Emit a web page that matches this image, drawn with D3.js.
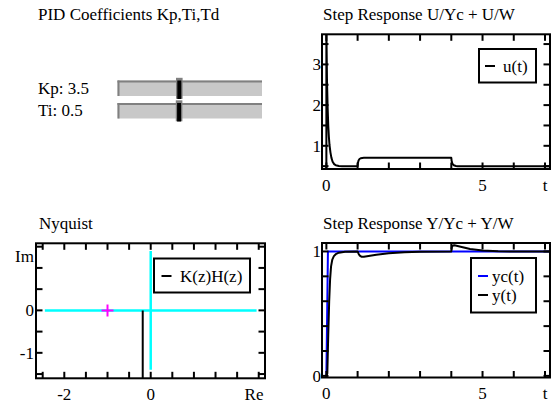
<!DOCTYPE html>
<html><head><meta charset="utf-8">
<script src="https://cdn.jsdelivr.net/npm/d3@7"></script>
<style>
body{margin:0;background:#fff}
text{font-family:"Liberation Serif","Times New Roman",serif;font-size:17px;fill:#000}
</style></head><body>
<svg id="c" width="553" height="405"></svg>
<script>
// ---------- data ----------
const titles = ["PID Coefficients Kp,Ti,Td", "Step Response U/Yc + U/W", "Nyquist", "Step Response Y/Yc + Y/W"];

const sliderNames = ["Kp", "Ti"];
const sliderValues = [3.5, 0.5];
const sliderMin = [0, 0];
const sliderMax = [8.3, 1.19];

// control signal u(t)
const tU =   [0, 0,   0.02, 0.04, 0.06, 0.08, 0.1,  0.13, 0.16, 0.2,  0.25, 0.3,  0.4,  0.5, 1.0, 1.01, 1.03, 1.06, 1.1,  1.15, 1.2, 4.0, 4.01, 4.03, 4.06, 4.1,  4.15, 4.2, 7.2];
const uVals = [0, 3.9, 2.6, 1.95, 1.5,  1.22, 1.02, 0.84, 0.71, 0.61, 0.55, 0.52, 0.505, 0.5, 0.5, 0.58, 0.64, 0.675, 0.695, 0.702, 0.705, 0.705, 0.63, 0.57, 0.535, 0.515, 0.505, 0.5, 0.5];

// reference response yc(t)
const tYc = [0, 0.05, 7.2];
const ycVals = [0, 1, 1];

// output y(t)
const tY =   [0, 0.03, 0.06, 0.09, 0.12, 0.15, 0.19, 0.24, 0.3,  0.4,  0.6,  1.0, 1.03,  1.07, 1.12, 1.2,  1.35, 1.6,  2.0,  2.5,  3.0,  4.0, 4.02, 4.05, 4.1,  4.3,  4.6,  5.0,  5.5,  6.0, 7.2];
const yVals = [0, 0.02, 0.33, 0.6,  0.78, 0.88, 0.935, 0.962, 0.978, 0.99, 0.997, 1.0, 0.982, 0.966, 0.958, 0.957, 0.963, 0.974, 0.986, 0.994, 0.998, 1.0, 1.035, 1.048, 1.05, 1.038, 1.02, 1.007, 1.001, 1.0, 1.0];

// Nyquist
const nyqRe = [-0.185, -0.185];
const nyqIm = [0, -3];
const critPoint = [-1, 0];
const reAxis = [-2.45, 2.45];
const imAxis = [-1.4, 1.4];

// axis ticks
const tTicks = [0, 1, 2, 3, 4, 5, 6, 7];
const tLabels = [[0, "0"], [5, "5"], [7, "t"]];
const uTicks = [0.5, 1, 1.5, 2, 2.5, 3, 3.5];
const uLabels = [[1, "1"], [2, "2"], [3, "3"]];
const yTicks = [0, 0.2, 0.4, 0.6, 0.8, 1.0];
const yLabels = [[0, "0"], [1, "1"]];
const reTicks = [-2.5, -2, -1.5, -1, -0.5, 0, 0.5, 1, 1.5, 2, 2.5];
const reLabels = [[-2, "-2"], [0, "0"]];
const imTicks = [-1.5, -1, -0.5, 0, 0.5, 1, 1.5];
const imLabels = [[0, "0"], [-1, "-1"]];

// ---------- drawing ----------
const svg = d3.select("#c");
svg.append("rect").attr("width", 553).attr("height", 405).attr("fill", "#fff");

// titles
const titlePos = [[38, 19.5], [323, 19.5], [39, 229], [323, 229]];
titles.forEach((t, i) => svg.append("text").attr("x", titlePos[i][0]).attr("y", titlePos[i][1]).text(t));

// sliders
const trackTops = [80.5, 103];
sliderNames.forEach((n, i) => {
  const top = trackTops[i], h = 15.5;
  const s = d3.scaleLinear().domain([sliderMin[i], sliderMax[i]]).range([119, 262]);
  svg.append("text").attr("x", 38).attr("y", top + 13).text(n + ": " + sliderValues[i]);
  svg.append("rect").attr("x", 117.5).attr("y", top).attr("width", 144.5).attr("height", h).attr("fill", "#c8c8c8");
  svg.append("line").attr("x1", 117.5).attr("x2", 262).attr("y1", top + 1).attr("y2", top + 1).attr("stroke", "#808080").attr("stroke-width", 2);
  svg.append("line").attr("x1", 118.5).attr("x2", 118.5).attr("y1", top).attr("y2", top + h).attr("stroke", "#808080").attr("stroke-width", 2);
  const cx = s(sliderValues[i]);
  svg.append("rect").attr("x", cx - 3.3).attr("y", top - 2.7).attr("width", 6.6).attr("height", h + 5.5).attr("fill", "#808080");
  svg.append("rect").attr("x", cx - 2).attr("y", top).attr("width", 4).attr("height", h + 3).attr("fill", "#000");
});

let clipId = 0;
function panel(x0, x1, y0, y1, xd, yd, xt, yt, xl, yl, ylx) {
  const x = d3.scaleLinear().domain(xd).range([x0, x1]);
  const y = d3.scaleLinear().domain(yd).range([y1, y0]);
  const g = svg.append("g");
  const id = "clip" + (clipId++);
  svg.append("clipPath").attr("id", id).append("rect").attr("x", x0).attr("y", y0).attr("width", x1 - x0).attr("height", y1 - y0);
  const plot = g.append("g").attr("clip-path", `url(#${id})`);
  const axes = g.append("g");
  const tl = 6.5;
  xt.forEach(v => {
    axes.append("line").attr("x1", x(v)).attr("x2", x(v)).attr("y1", y1).attr("y2", y1 - tl).attr("stroke", "#000").attr("stroke-width", 2);
    axes.append("line").attr("x1", x(v)).attr("x2", x(v)).attr("y1", y0).attr("y2", y0 + tl).attr("stroke", "#000").attr("stroke-width", 2);
  });
  yt.forEach(v => {
    axes.append("line").attr("x1", x0).attr("x2", x0 + tl).attr("y1", y(v)).attr("y2", y(v)).attr("stroke", "#000").attr("stroke-width", 2);
    axes.append("line").attr("x1", x1).attr("x2", x1 - tl).attr("y1", y(v)).attr("y2", y(v)).attr("stroke", "#000").attr("stroke-width", 2);
  });
  axes.append("rect").attr("x", x0).attr("y", y0).attr("width", x1 - x0).attr("height", y1 - y0).attr("fill", "none").attr("stroke", "#000").attr("stroke-width", 2);
  xl.forEach(([v, s]) => axes.append("text").attr("x", x(v)).attr("y", y1 + 21.5).attr("text-anchor", "middle").text(s));
  yl.forEach(([v, s]) => axes.append("text").attr("x", ylx).attr("y", y(v) + 6).attr("text-anchor", "end").text(s));
  return {x, y, plot, axes};
}

function drawLine(p, xs, ys, color, w) {
  const pts = xs.map((v, i) => [p.x(v), p.y(ys[i])]);
  p.plot.append("path").attr("d", d3.line()(pts)).attr("fill", "none").attr("stroke", color).attr("stroke-width", w).attr("stroke-linejoin", "round");
}

function legend(p, bx, by, bw, bh, items) {
  p.axes.append("rect").attr("x", bx).attr("y", by).attr("width", bw).attr("height", bh).attr("fill", "#fff").attr("stroke", "#000").attr("stroke-width", 2);
  items.forEach((it, i) => {
    const cy = by + it.dy;
    p.axes.append("line").attr("x1", bx + it.dx).attr("x2", bx + it.dx + 10).attr("y1", cy).attr("y2", cy).attr("stroke", it.color).attr("stroke-width", 2);
    p.axes.append("text").attr("x", bx + it.tx).attr("y", cy + 5.5).text(it.label);
  });
}

// Step response U
const pu = panel(322, 550, 34.3, 169, [-0.14, 7.16], [0.43, 3.74], tTicks, uTicks, tLabels, uLabels, 321);
drawLine(pu, tU, uVals, "#000", 2);
legend(pu, 479, 49, 57, 33.5, [{dx: 6, dy: 17, tx: 24, color: "#000", label: "u(t)"}]);

// Step response Y
const py = panel(322, 550, 243, 377.5, [-0.14, 7.16], [-0.013, 1.068], tTicks, yTicks, tLabels, yLabels, 321);
drawLine(py, tYc, ycVals, "#0000ff", 2);
drawLine(py, tY, yVals, "#000", 2);
legend(py, 471, 258, 65, 54.5, [
  {dx: 7, dy: 18, tx: 21, color: "#0000ff", label: "yc(t)"},
  {dx: 7, dy: 37, tx: 21, color: "#000", label: "y(t)"}
]);

// Nyquist
const pn = panel(36, 265, 243.3, 378.3, [-2.655, 2.645], [-1.6, 1.58], reTicks, imTicks, reLabels, imLabels, 34);
pn.axes.append("text").attr("x", 263.5).attr("y", 378.3 + 21.5).attr("text-anchor", "end").text("Re");
pn.axes.append("text").attr("x", 34).attr("y", 262).attr("text-anchor", "end").text("Im");
pn.plot.append("line").attr("x1", pn.x(reAxis[0])).attr("x2", pn.x(reAxis[1])).attr("y1", pn.y(0)).attr("y2", pn.y(0)).attr("stroke", "#00ffff").attr("stroke-width", 2.5);
pn.plot.append("line").attr("x1", pn.x(0)).attr("x2", pn.x(0)).attr("y1", pn.y(imAxis[1])).attr("y2", pn.y(imAxis[0])).attr("stroke", "#00ffff").attr("stroke-width", 2.5);
drawLine(pn, nyqRe, nyqIm, "#000", 2);
const cx = pn.x(critPoint[0]), cy = pn.y(critPoint[1]);
pn.plot.append("line").attr("x1", cx - 6).attr("x2", cx + 6).attr("y1", cy).attr("y2", cy).attr("stroke", "#ff00ff").attr("stroke-width", 2);
pn.plot.append("line").attr("x1", cx).attr("x2", cx).attr("y1", cy - 6).attr("y2", cy + 6).attr("stroke", "#ff00ff").attr("stroke-width", 2);
legend(pn, 154, 258.5, 96, 34, [{dx: 7.5, dy: 17.5, tx: 26, color: "#000", label: "K(z)H(z)"}]);
</script></body></html>
